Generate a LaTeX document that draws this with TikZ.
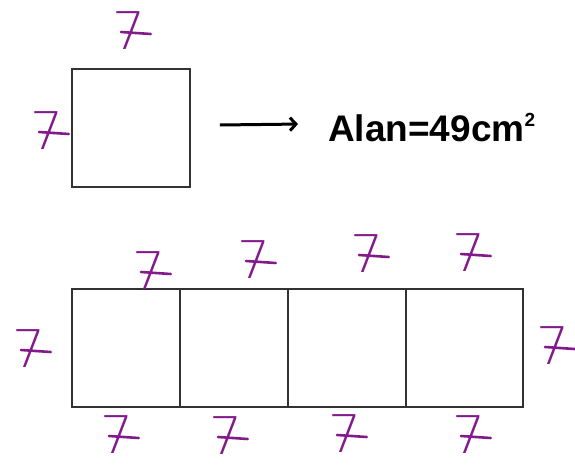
\documentclass[tikz,border=0pt]{standalone}
\usepackage{fontspec}
\setmainfont{Liberation Sans}
\newfontfamily\handfont{DejaVu Sans ExtraLight}
\usetikzlibrary{arrows.meta,calc}
\definecolor{hand}{RGB}{130,26,140}
\definecolor{edge}{RGB}{50,50,50}
\tikzset{
  box/.style={draw=edge, line width=1.8pt, inner sep=0pt, minimum height=118pt},
  seven/.style={text=hand, inner sep=0pt, font=\handfont\fontsize{52}{52}\selectfont,
    append after command={
      \pgfextra{\draw[hand, line width=2.6pt, line cap=round]
        ($(\tikzlastnode.center)+(-8pt,-1pt)$) -- ($(\tikzlastnode.east)+(5pt,-3pt)$);}
    }},
}
\begin{document}
\begin{tikzpicture}[x=1pt,y=-1pt]
\useasboundingbox (0,0) rectangle (575,466);
% top square
\node[box, minimum width=118pt] (sq) at (131,128) {};
\node[seven] (s1) at (129,31) {7};
\node[seven] (s2) at (47,131) {7};
% result text
\node[anchor=base west, inner sep=0pt, font=\bfseries\fontsize{37}{37}\selectfont] (alan) at (328,141) {Alan=49cm\raisebox{15pt}{\fontsize{19}{19}\selectfont 2}};
\coordinate (a0) at ($(sq.east)+(29,-3)$);
\coordinate (a1) at ($(alan.west)+(-30,-3)$);
\draw[line width=3pt, -{Straight Barb[length=6pt,width=13pt]}] (a0) -- (a1);
% bottom row
\node[box, minimum width=108pt] (b1) at (126,348) {};
\node[box, minimum width=108pt] (b2) at (234,348) {};
\node[box, minimum width=118pt] (b3) at (347,348) {};
\node[box, minimum width=117pt] (b4) at (464.5,348) {};
\node[seven] (t1) at (149,271) {7};
\node[seven] (t2) at (254,260) {7};
\node[seven] (t3) at (367,254) {7};
\node[seven] (t4) at (469,253) {7};
\node[seven] (l1) at (29,349) {7};
\node[seven] (r1) at (553,346) {7};
\node[seven] (u1) at (117,435) {7};
\node[seven] (u2) at (226,436) {7};
\node[seven] (u3) at (345,434) {7};
\node[seven] (u4) at (469,435) {7};
\end{tikzpicture}
\end{document}
